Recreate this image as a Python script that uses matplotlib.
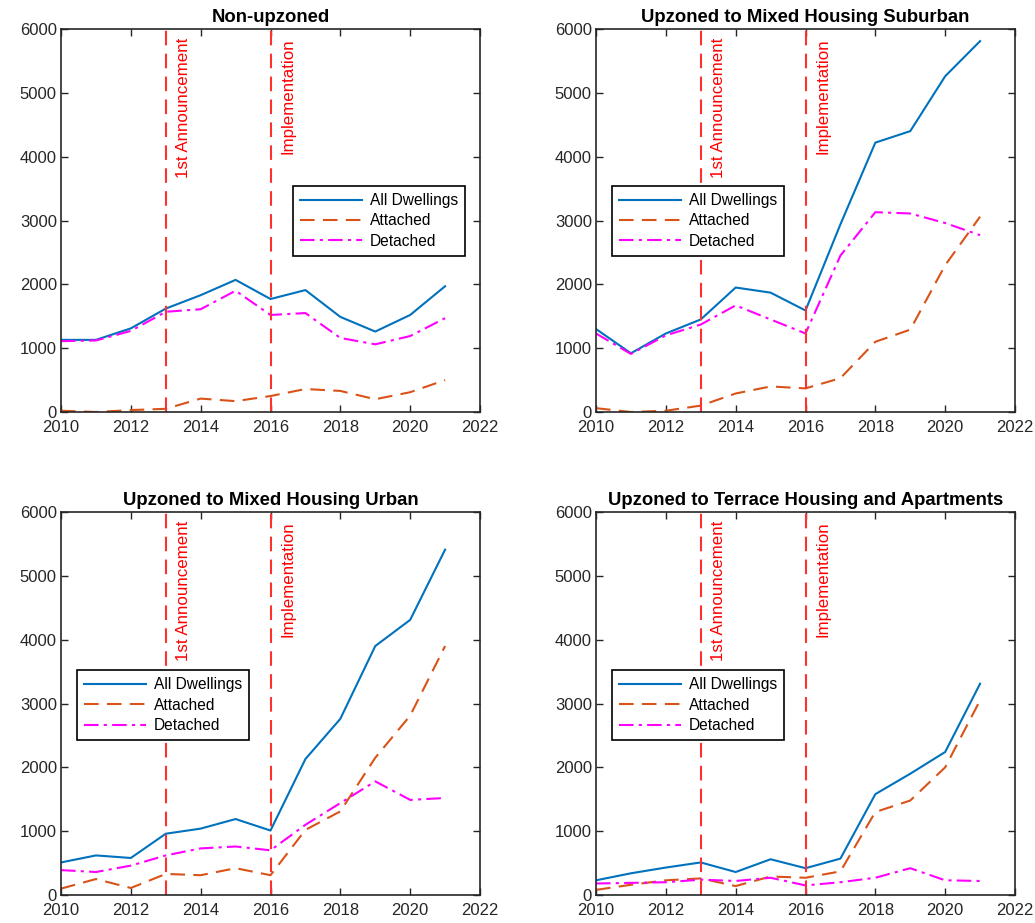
import matplotlib
matplotlib.use("Agg")
import matplotlib.pyplot as plt

plt.rcParams['font.family'] = ['Liberation Sans', 'DejaVu Sans']

years = list(range(2010, 2022))

titles = ["Non-upzoned",
          "Upzoned to Mixed Housing Suburban",
          "Upzoned to Mixed Housing Urban",
          "Upzoned to Terrace Housing and Apartments"]

series_names = ["All Dwellings", "Attached", "Detached"]

# Non-upzoned
nonup_all = [1130, 1130, 1310, 1620, 1830, 2070, 1770, 1910, 1490, 1260, 1520, 1970]
nonup_att = [20, 0, 30, 50, 210, 170, 250, 360, 330, 200, 310, 500]
nonup_det = [1110, 1120, 1270, 1570, 1610, 1900, 1520, 1550, 1160, 1060, 1190, 1470]

# Mixed Housing Suburban
mhs_all = [1300, 920, 1230, 1450, 1950, 1870, 1590, 2940, 4220, 4400, 5260, 5810]
mhs_att = [60, 0, 20, 100, 290, 400, 370, 530, 1100, 1290, 2300, 3060]
mhs_det = [1230, 910, 1200, 1370, 1670, 1450, 1230, 2450, 3130, 3110, 2960, 2770]

# Mixed Housing Urban
mhu_all = [510, 620, 580, 960, 1040, 1190, 1010, 2130, 2760, 3900, 4310, 5410]
mhu_att = [100, 250, 110, 330, 310, 420, 310, 1020, 1310, 2150, 2810, 3900]
mhu_det = [390, 360, 460, 620, 730, 760, 700, 1100, 1440, 1780, 1490, 1520]

# Terrace Housing and Apartments
tha_all = [230, 340, 430, 510, 360, 560, 420, 570, 1580, 1900, 2240, 3310]
tha_att = [80, 160, 230, 260, 140, 290, 270, 370, 1300, 1480, 2000, 3050]
tha_det = [180, 190, 200, 240, 220, 270, 150, 200, 270, 420, 230, 220]

panels = [(nonup_all, nonup_att, nonup_det),
          (mhs_all, mhs_att, mhs_det),
          (mhu_all, mhu_att, mhu_det),
          (tha_all, tha_att, tha_det)]

events = [2013, 2016]
event_labels = ["1st Announcement", "Implementation"]

xticks = [2010, 2012, 2014, 2016, 2018, 2020, 2022]
yticks = [0, 1000, 2000, 3000, 4000, 5000, 6000]

W, H = 1035, 923
fig = plt.figure(figsize=(W / 100, H / 100), dpi=100)

ax_boxes = [(61, 29), (596, 29), (61, 512), (596, 512)]
ax_w, ax_h = 419, 383
legend_anchor = [(0.554, 0.590), (0.038, 0.590), (0.038, 0.587), (0.038, 0.587)]

tick_col = '#262626'
for i, (title, (a, att, det)) in enumerate(zip(titles, panels)):
    lx, ty = ax_boxes[i]
    ax = fig.add_axes([lx / W, 1 - (ty + ax_h) / H, ax_w / W, ax_h / H])
    ax.plot(years, a, color='#0072BD', lw=1.5, ls='-', label=series_names[0])
    ax.plot(years, att, color='#D95319', lw=1.5, ls=(0, (7, 4)), label=series_names[1])
    ax.plot(years, det, color='#FF00FF', lw=1.5, ls=(0, (7, 2.5, 1.5, 2.5)), label=series_names[2])
    for ev, evl in zip(events, event_labels):
        ax.axvline(ev, color='#FF3030', lw=1.5, ls=(0, (7, 4)))
        ax.text(ev + 0.3, 5860, evl, rotation=90, va='top', ha='left',
                color='#FF0000', fontsize=12.2)
    ax.set_xlim(2010, 2022)
    ax.set_ylim(0, 6000)
    ax.set_xticks(xticks)
    ax.set_yticks(yticks)
    ax.tick_params(direction='in', top=True, right=True, length=5, width=1,
                   labelsize=12, colors=tick_col)
    ax.tick_params(axis='x', pad=6)
    ax.tick_params(axis='y', pad=3)
    for sp in ax.spines.values():
        sp.set_linewidth(1.2)
        sp.set_color(tick_col)
    ax.set_title(title, fontsize=13.3, fontweight='bold', color='#000000', pad=5)
    leg = ax.legend(loc='upper left', bbox_to_anchor=legend_anchor[i],
                    borderaxespad=0, fontsize=11.2, fancybox=False,
                    framealpha=1, edgecolor='#000000', handlelength=4.0,
                    handletextpad=0.5, labelspacing=0.35, borderpad=0.45)
    leg.get_frame().set_linewidth(1.2)

fig.savefig("out.png", dpi=100)
